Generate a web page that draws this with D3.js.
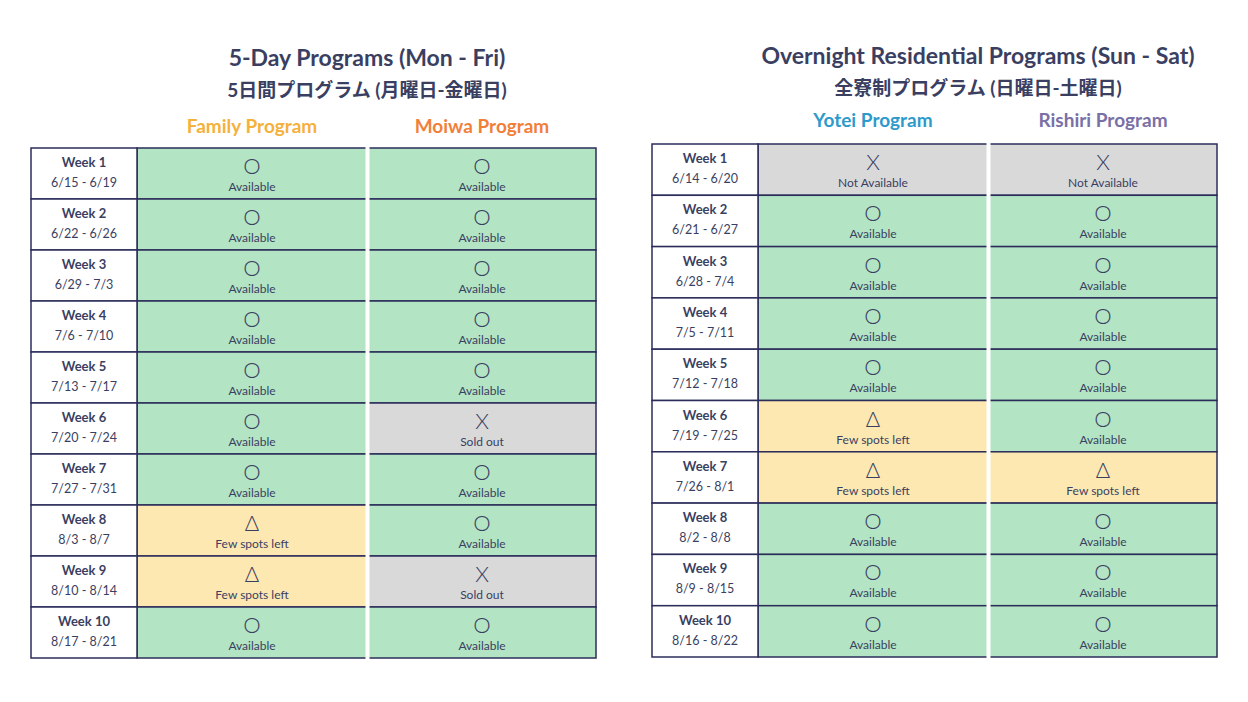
<!DOCTYPE html>
<html><head><meta charset="utf-8">
<script src="https://cdn.jsdelivr.net/npm/d3@7"></script>
<style>body{margin:0;background:#fff}svg{font-family:Lato,"Noto Sans CJK JP",sans-serif}</style>
</head><body><svg id="c" width="1248" height="702"></svg>
<script>
const weeks = ["Week 1","Week 2","Week 3","Week 4","Week 5","Week 6","Week 7","Week 8","Week 9","Week 10"];
const datesA = ["6/15 - 6/19","6/22 - 6/26","6/29 - 7/3","7/6 - 7/10","7/13 - 7/17","7/20 - 7/24","7/27 - 7/31","8/3 - 8/7","8/10 - 8/14","8/17 - 8/21"];
const datesB = ["6/14 - 6/20","6/21 - 6/27","6/28 - 7/4","7/5 - 7/11","7/12 - 7/18","7/19 - 7/25","7/26 - 8/1","8/2 - 8/8","8/9 - 8/15","8/16 - 8/22"];
// status: A=available, F=few spots left, S=sold out, N=not available
const family  = ["A","A","A","A","A","A","A","F","F","A"];
const moiwa   = ["A","A","A","A","A","S","A","A","S","A"];
const yotei   = ["N","A","A","A","A","F","F","A","A","A"];
const rishiri = ["N","A","A","A","A","A","F","A","A","A"];
const statusInfo = {A:{sym:"O",txt:"Available",fill:"#b3e5c4"},F:{sym:"Δ",txt:"Few spots left",fill:"#fde8b2"},S:{sym:"X",txt:"Sold out",fill:"#d9d9d9"},N:{sym:"X",txt:"Not Available",fill:"#d9d9d9"}};
const navy="#3a3f62";
const svg=d3.select("#c");
function table(cfg){
  const g=svg.append("g");
  g.append("text").attr("x",cfg.cx).attr("y",cfg.ty).attr("text-anchor","middle").attr("fill",navy).attr("font-size",23).attr("font-weight",700).text(cfg.title);
  g.append("text").attr("x",cfg.cx).attr("y",cfg.ty+31).attr("text-anchor","middle").attr("fill",navy).attr("font-size",19).attr("font-weight",700).text(cfg.sub);
  const y=d3.scaleBand().domain(weeks).range([cfg.y0,cfg.y1]);
  const cols=[{x0:cfg.x0,x1:cfg.x0+106},{x0:cfg.x0+106,x1:cfg.x0+336},{x0:cfg.x0+337,x1:cfg.x0+565}];
  cfg.progs.forEach((p,i)=>{
    const c=cols[i+1];
    g.append("text").attr("x",(c.x0+c.x1)/2).attr("y",cfg.hy).attr("text-anchor","middle").attr("fill",p.color).attr("font-size",19).attr("font-weight",700).text(p.name);
    weeks.forEach((w,j)=>{
      const s=statusInfo[p.data[j]],yy=y(w),h=y.bandwidth();
      g.append("rect").attr("x",c.x0).attr("y",yy).attr("width",c.x1-c.x0).attr("height",h).attr("fill",s.fill).attr("stroke","#2b2c5a").attr("stroke-width",1.5);
      g.append("text").attr("x",(c.x0+c.x1)/2).attr("y",yy+26).attr("text-anchor","middle").attr("fill",navy).attr("font-size",22).attr("font-weight",300).text(s.sym);
      g.append("text").attr("x",(c.x0+c.x1)/2).attr("y",yy+43).attr("text-anchor","middle").attr("fill",navy).attr("font-size",12).text(s.txt);
    });
  });
  g.append("rect").attr("x",cfg.x0+334.5).attr("y",cfg.y0-1).attr("width",4).attr("height",cfg.y1-cfg.y0+2).attr("fill","#fff");
  weeks.forEach((w,j)=>{
    const yy=y(w),c=cols[0];
    g.append("rect").attr("x",c.x0).attr("y",yy).attr("width",c.x1-c.x0).attr("height",y.bandwidth()).attr("fill","#fff").attr("stroke","#2b2c5a").attr("stroke-width",1.5);
    g.append("text").attr("x",(c.x0+c.x1)/2).attr("y",yy+19).attr("text-anchor","middle").attr("fill",navy).attr("font-size",13).attr("font-weight",700).text(w);
    g.append("text").attr("x",(c.x0+c.x1)/2).attr("y",yy+39).attr("text-anchor","middle").attr("fill",navy).attr("font-size",12.5).text(cfg.dates[j]);
  });
}
table({x0:31,y0:148,y1:658,cx:367,ty:66,hy:133,title:"5-Day Programs (Mon - Fri)",sub:"5日間プログラム (月曜日-金曜日)",dates:datesA,
  progs:[{name:"Family Program",color:"#f5b13b",data:family},{name:"Moiwa Program",color:"#f17f3a",data:moiwa}]});
table({x0:652,y0:144,y1:657,cx:978,ty:64,hy:127,title:"Overnight Residential Programs (Sun - Sat)",sub:"全寮制プログラム (日曜日-土曜日)",dates:datesB,
  progs:[{name:"Yotei Program",color:"#2e9acb",data:yotei},{name:"Rishiri Program",color:"#7a70a6",data:rishiri}]});
</script></body></html>
